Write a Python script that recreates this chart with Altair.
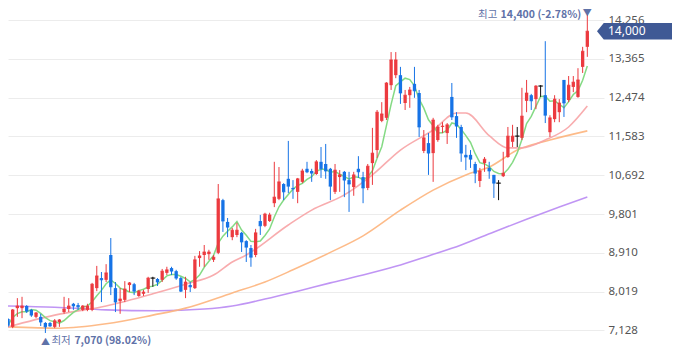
import altair as alt
import pandas as pd

# ---- candle data (index 0 = oldest) ----
opens = [7390, 7210, 7640, 7640, 7690, 7600, 7440, 7440, 7300, 7300,
         7210, 7320, 7550, 7620, 7740, 7710, 7600, 7600, 7600, 8100,
         8330, 8290, 8860, 8100, 7800, 7830, 8170, 8190, 7920, 7970,
         8080, 8330, 8310, 8290, 8450, 8560, 8490, 8330, 8060, 8170,
         8100, 8790, 8860, 8880, 8750, 8910, 10120, 9620, 9270, 9320,
         9370, 9180, 9020, 8860, 9640, 9530, 9640, 10050, 10150, 10490,
         10610, 10400, 10310, 10540, 10840, 10790, 10720, 11000, 10950, 10840,
         10310, 10650, 10770, 10580, 10420, 10840, 10650, 10400, 10970, 11270,
         11940, 12010, 12760, 12990, 12990, 12350, 12530, 12790, 12580, 11250,
         11430, 11200, 11500, 11800, 11660, 12490, 12050, 11800, 11160, 11160,
         10950, 10560, 10970, 10860, 10700, 10510, 10670, 11110, 11460, 11590,
         11550, 12400, 12530, 12440, 12740, 12530, 11680, 11980, 12140, 12880,
         12420, 12720, 12490, 13180, 13640]
highs = [7410, 7620, 7870, 7900, 7710, 7620, 7550, 7510, 7320, 7320,
         7390, 7390, 7900, 7870, 7760, 7760, 7710, 7740, 8220, 8610,
         8470, 8650, 9250, 8240, 8100, 8260, 8240, 8220, 8060, 8060,
         8360, 8360, 8330, 8540, 8590, 8590, 8520, 8360, 8360, 8240,
         8840, 8950, 9090, 8980, 8860, 10490, 10150, 9710, 9480, 9600,
         9390, 9200, 9090, 9460, 9780, 9830, 9830, 11000, 10880, 10510,
         11480, 10580, 10630, 10840, 11000, 10840, 11040, 11340, 11410, 10860,
         10950, 10810, 10790, 10770, 10770, 11130, 10770, 10950, 11780, 12190,
         12370, 12830, 13520, 13520, 13180, 12650, 12720, 13180, 12650, 11730,
         11660, 12010, 11850, 11910, 11890, 12810, 12140, 11850, 11390, 11270,
         11000, 10860, 11110, 11000, 10700, 10580, 11230, 11800, 11850, 11800,
         12700, 12880, 12560, 12760, 12760, 13770, 12070, 12530, 12440, 12880,
         12970, 12970, 13150, 13640, 14400]
lows = [7210, 7180, 7440, 7410, 7530, 7440, 7410, 7230, 7070, 7210,
        7180, 7210, 7510, 7550, 7600, 7600, 7570, 7570, 7570, 8030,
        7780, 8240, 7940, 7550, 7510, 7780, 8010, 7940, 7900, 7920,
        7990, 8130, 8150, 8240, 8400, 8400, 8290, 8010, 7870, 8010,
        8080, 8590, 8590, 8750, 8700, 8880, 9390, 9270, 9200, 9270,
        8930, 8700, 8590, 8810, 9320, 9500, 9620, 9960, 10120, 10120,
        10280, 10150, 10050, 10510, 10740, 10540, 10700, 10630, 10610, 10120,
        10260, 10310, 10190, 9850, 10220, 10630, 10050, 10350, 10470, 11090,
        11910, 11960, 12650, 12920, 12330, 12190, 12240, 12470, 11570, 11200,
        10700, 10540, 11460, 11660, 11410, 11960, 11550, 11000, 10810, 10860,
        10510, 10420, 10770, 10610, 10170, 10120, 10650, 11090, 11340, 11340,
        11500, 12140, 12190, 12210, 12490, 11890, 11570, 11910, 11910, 12030,
        12370, 12600, 12470, 13040, 13410]
closes = [7250, 7600, 7690, 7690, 7570, 7480, 7530, 7320, 7210, 7230,
          7350, 7370, 7620, 7690, 7690, 7670, 7690, 7690, 8190, 8380,
          8290, 8450, 8130, 7780, 7850, 8080, 8220, 8030, 8030, 8010,
          8330, 8330, 8240, 8490, 8520, 8490, 8330, 8030, 8240, 8130,
          8750, 8840, 8930, 8930, 8810, 10150, 9640, 9500, 9430, 9430,
          9160, 9040, 8810, 9370, 9530, 9800, 9780, 10190, 10540, 10310,
          10440, 10380, 10610, 10790, 10770, 10740, 11000, 10840, 10790, 10440,
          10810, 10700, 10580, 10490, 10700, 10770, 10400, 10900, 11200, 12140,
          12100, 12810, 13340, 13340, 12580, 12530, 12650, 12630, 11800, 11550,
          11200, 11960, 11800, 11820, 11850, 12030, 11820, 11200, 11110, 11060,
          10740, 10790, 11060, 10790, 10510, 10510, 10740, 11590, 11590, 11590,
          12050, 12580, 12400, 12740, 12740, 12070, 12010, 12440, 12350, 12350,
          12760, 12830, 12880, 13540, 14000]

# ---- moving averages (candle index, value) ----
ma20_idx = [0, 10, 21, 31, 38, 44, 48, 51, 60, 65, 72, 78, 84, 91, 96, 98, 103, 107, 110, 115, 120, 124]
ma20_val = [7210, 7480, 7690, 7970, 8190, 8400, 8700, 8860, 9550, 9890, 10240, 10700, 11270, 11730,
            12120, 12120, 11600, 11320, 11320, 11500, 11800, 12280]
ma60_idx = [0, 11, 21, 31, 38, 48, 55, 61, 69, 76, 84, 91, 98, 103, 109, 116, 124]
ma60_val = [7210, 7180, 7280, 7480, 7640, 7990, 8240, 8520, 8920, 9300, 9890, 10350, 10700, 10880,
            11270, 11500, 11710]
ma120_idx = [0, 10, 21, 32, 42, 48, 55, 62, 69, 76, 83, 90, 97, 104, 111, 118, 124]
ma120_val = [7690, 7660, 7600, 7580, 7620, 7690, 7850, 8030, 8220, 8400, 8600, 8840, 9090, 9390,
             9680, 9960, 10190]

y_ticks = [7128, 8019, 8910, 9801, 10692, 11583, 12474, 13365, 14256]
hi_label = "14,400 (-2.78%)"
lo_label = "7,070 (98.02%)"

idx = list(range(len(closes)))
dirs = ["up" if c > o else ("down" if c < o else "flat") for o, c in zip(opens, closes)]
df = pd.DataFrame({"idx": idx, "open": opens, "high": highs, "low": lows,
                   "close": closes, "dir": dirs})
last_i = idx[-1]
low_i = lows.index(min(lows))
df_last = df[df.idx == last_i].assign(lbl=hi_label)
df_low = df[df.idx == low_i].assign(lbl=lo_label)

W, H = 596, 342
PAD_R = 68
xs = alt.Scale(domain=[0, 127.57], nice=False, zero=False)
ys = alt.Scale(domain=[6679, 14532], nice=False, zero=False)
yaxis = alt.Axis(orient="right", values=y_ticks, format=",.0f", grid=True, gridColor="#ececec",
                 gridWidth=1, domain=False, ticks=False, labelPadding=4, labelFontSize=11.5,
                 labelColor="#555555", labelFont="Noto Sans", title=None)
X = lambda f: alt.X(f, scale=xs, axis=None)
Y = lambda f: alt.Y(f, scale=ys, axis=yaxis)
cscale = alt.Scale(domain=["up", "down", "flat"], range=["#ec3a3f", "#1673e6", "#111111"])
C = alt.Color("dir:N", scale=cscale, legend=None)

def ma_line(ix, vals, color):
    d = pd.DataFrame({"idx": ix, "v": vals})
    return alt.Chart(d).mark_line(color=color, strokeWidth=1.6, interpolate="monotone",
                                  opacity=0.9).encode(x=X("idx:Q"), y=Y("v:Q"))

ma120 = ma_line(ma120_idx, ma120_val, "#b98af3")
ma60 = ma_line(ma60_idx, ma60_val, "#fdb47c")
ma20 = ma_line(ma20_idx, ma20_val, "#f7a3a5")
ma5 = alt.Chart(df).transform_window(
    ma5="mean(close)", frame=[-4, 0], sort=[alt.SortField("idx")]
).mark_line(color="#7dd87d", strokeWidth=1.5, opacity=0.95).encode(x=X("idx:Q"), y=Y("ma5:Q"))

base = alt.Chart(df)
wick = base.mark_rule(strokeWidth=1).encode(x=X("idx:Q"), y=Y("low:Q"), y2="high:Q", color=C)
body = base.mark_rule(strokeWidth=3.3).encode(x=X("idx:Q"), y=Y("open:Q"), y2="close:Q", color=C)
tick = base.mark_tick(orient="horizontal", size=3.3, thickness=1).encode(
    x=X("idx:Q"), y=Y("close:Q"), color=C)
flat = base.transform_filter("datum.dir == 'flat'").mark_tick(
    orient="horizontal", size=5, thickness=1.2).encode(x=X("idx:Q"), y=Y("close:Q"), color=C)

ann_color = "#5f72a8"
font = "Noto Sans CJK KR"
hi_arrow = alt.Chart(df_last).mark_text(text="▼", fontSize=9, align="center", baseline="alphabetic",
                                        dy=2.5, color=ann_color, font=font).encode(
    x=X("idx:Q"), y=Y("high:Q"))
hi_num = alt.Chart(df_last).mark_text(fontSize=10.5, fontWeight="bold", align="right",
                                      baseline="alphabetic", dx=-6, dy=4.5, color=ann_color,
                                      font=font).encode(x=X("idx:Q"), y=Y("high:Q"), text="lbl:N")
hi_word = alt.Chart(df_last).mark_text(text="최고", fontSize=10.5, align="right", baseline="alphabetic",
                                       dx=-90, dy=4.5, color=ann_color, font=font).encode(
    x=X("idx:Q"), y=Y("high:Q"))
lo_arrow = alt.Chart(df_low).mark_text(text="▲", fontSize=9, align="center", baseline="top",
                                       dy=5, color=ann_color, font=font).encode(
    x=X("idx:Q"), y=Y("low:Q"))
lo_word = alt.Chart(df_low).mark_text(text="최저", fontSize=10.5, align="left", baseline="top",
                                      dx=6, dy=3, color=ann_color, font=font).encode(
    x=X("idx:Q"), y=Y("low:Q"))
lo_num = alt.Chart(df_low).mark_text(fontSize=10.5, fontWeight="bold", align="left", baseline="top",
                                     dx=29, dy=3, color=ann_color, font=font).encode(
    x=X("idx:Q"), y=Y("low:Q"), text="lbl:N")

# price tag at the right edge (last close)
TAG_L, TAG_R = 589, W + PAD_R
tag_w = TAG_R - TAG_L
tag = alt.Chart(df_last).mark_point(
    shape="M-1,0 L-0.82,-0.22 L1,-0.22 L1,0.22 L-0.82,0.22 Z", size=tag_w * tag_w, filled=True,
    color="#3f5995", opacity=1).encode(x=alt.value((TAG_L + TAG_R) / 2), y=Y("close:Q"))
tag_txt = alt.Chart(df_last).mark_text(fontSize=12, align="left", baseline="middle", color="white",
                                       font="Noto Sans").encode(
    x=alt.value(600), y=Y("close:Q"), text=alt.Text("close:Q", format=","))

chart = alt.layer(
    ma120, ma60, ma20, ma5, wick, body, tick, flat,
    hi_arrow, hi_num, hi_word, lo_arrow, lo_word, lo_num, tag, tag_txt
).properties(
    width=W, height=H, autosize=alt.AutoSizeParams(type="none"),
    padding={"left": 0, "top": 0, "right": PAD_R, "bottom": 0}, background="white"
).configure_view(stroke=None)

chart.save("out.html", embed_options={"renderer": "svg", "actions": False})
